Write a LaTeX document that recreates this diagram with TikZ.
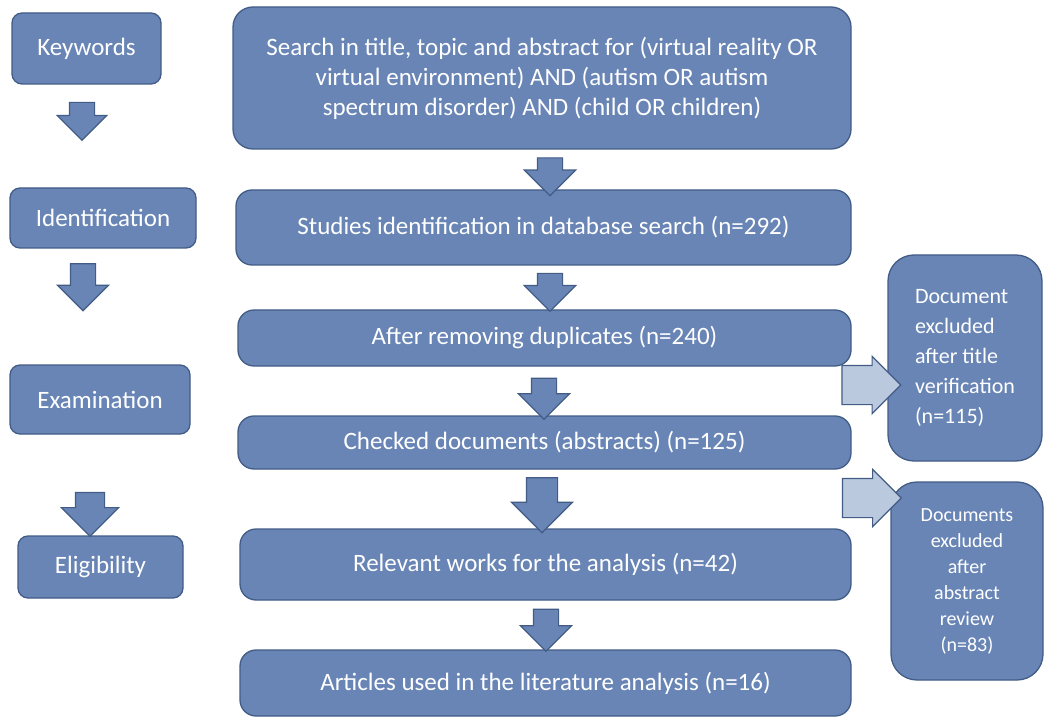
\documentclass[tikz,border=0pt]{standalone}
\usepackage{fontspec}
\setmainfont{Carlito}
\usetikzlibrary{shapes.arrows}
\definecolor{mfill}{RGB}{104,133,182}
\definecolor{mline}{RGB}{66,92,134}
\definecolor{lfill}{RGB}{186,201,222}

\begin{document}
\begin{tikzpicture}[x=1pt,y=-1pt,
  box/.style={rectangle,rounded corners=16pt,draw=mline,fill=mfill,line width=1.3pt,
              text=white,font=\fontsize{25}{30}\selectfont,align=center,inner sep=0pt},
  sbox/.style={box,rounded corners=10pt,font=\fontsize{25}{30}\selectfont},
  xbox/.style={box,rounded corners=26pt},
  darr/.style={single arrow,draw=mline,fill=mfill,line width=1.2pt,inner sep=12pt,
               shape border rotate=270,single arrow head extend=13pt},
  rarr/.style={single arrow,draw=mline,fill=lfill,line width=1.2pt,inner sep=19pt,
               single arrow head extend=9pt}
]
\useasboundingbox (0,0) rectangle (1044,719);

% ── stages ───────────────────────────────────────────────
\node[sbox,minimum width=149pt,minimum height=71pt] (kw)    at (86.5,48.5) {Keywords};
\node[sbox,minimum width=186pt,minimum height=60pt] (ident) at (103,218)   {Identification};
\node[sbox,minimum width=180pt,minimum height=69pt] (exam)  at (100,399.5) {Examination};
\node[sbox,minimum width=165pt,minimum height=62pt] (elig)  at (100.5,567) {Eligibility};
\node[darr,minimum height=36pt,single arrow head extend=12pt] (a1) at (82,115)  {};
\node[darr,minimum height=47pt] (a2) at (83,281)  {};
\node[darr,minimum height=41pt,inner sep=14pt,single arrow head extend=14pt] (a3) at (90,507)  {};

% ── main flow ────────────────────────────────────────────
\node[box,minimum width=618pt,minimum height=142pt,rounded corners=20pt] (search) at (542,78)
  {Search in title, topic and abstract for (virtual reality OR\\
   virtual environment) AND (autism OR autism\\
   spectrum disorder) AND (child OR children)};
\node[box,minimum width=615pt,minimum height=75pt] (found) at (543.5,227.5)
  {Studies identification in database search (n=292)};
\node[box,minimum width=613pt,minimum height=56pt] (dup)   at (544.5,338)
  {After removing duplicates (n=240)};
\node[box,minimum width=613pt,minimum height=53pt] (check) at (544.5,442.5)
  {Checked documents (abstracts) (n=125)};
\node[box,minimum width=611pt,minimum height=71pt] (relev) at (545.5,564.5)
  {Relevant works for the analysis (n=42)};
\node[box,minimum width=611pt,minimum height=66pt] (used)  at (545.5,683)
  {Articles used in the literature analysis (n=16)};

\node[darr,minimum height=35pt] (b1) at (550,170.5) {};
\node[darr,minimum height=36pt] (b2) at (550,286)   {};
\node[darr,minimum height=41pt] (b3) at (544,392.5) {};
\node[darr,minimum height=55pt,inner sep=15pt,single arrow head extend=15pt] (b4) at (542,497.5) {};
\node[darr,minimum height=42pt] (b5) at (546,624)   {};

% ── excluded ─────────────────────────────────────────────
\node[xbox,minimum width=154pt,minimum height=206pt,align=left,
      font=\fontsize{22}{30}\selectfont] (excl1) at (965,358)
  {Document\\excluded\\after title\\verification\\(n=115)};
\node[xbox,minimum width=152pt,minimum height=198pt,
      font=\fontsize{20}{26}\selectfont] (excl2) at (967,581)
  {Documents\\excluded\\after\\abstract\\review\\(n=83)};
\node[rarr,minimum height=53pt] (c1) at (861.5,385) {};
\node[rarr,minimum height=52pt] (c2) at (862,498)   {};

\end{tikzpicture}
\end{document}
